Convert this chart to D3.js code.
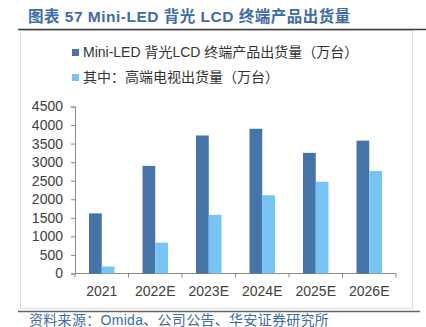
<!DOCTYPE html>
<html>
<head>
<meta charset="utf-8">
<script src="https://cdn.jsdelivr.net/npm/d3@7"></script>
<style>
  body { margin: 0; background: #fff; }
  svg { display: block; }
</style>
</head>
<body>
<svg id="chart" width="426" height="327"></svg>
<script>
// data
const categories = ["2021", "2022E", "2023E", "2024E", "2025E", "2026E"];
const seriesNames = ["Mini-LED 背光LCD 终端产品出货量（万台）", "其中：高端电视出货量（万台）"];
const totalShipments = [1620, 2900, 3720, 3900, 3250, 3580];
const highEndTV = [190, 830, 1580, 2110, 2470, 2760];
const yTicks = [0, 500, 1000, 1500, 2000, 2500, 3000, 3500, 4000, 4500];

const colors = ["#4673a8", "#76c4f5"];
const font = "'Liberation Sans', Arial, 'Noto Sans CJK SC', sans-serif";

const svg = d3.select("#chart");
const width = 426, height = 327;
const margin = { top: 106.5, right: 30, bottom: 53.5, left: 75 };

//------------------FRAME------------------
svg.append("rect")
    .attr("x", 20.5).attr("y", 30.5)
    .attr("width", 392).attr("height", 278)
    .attr("fill", "none")
    .attr("stroke", "#dcdcdc");

svg.append("line")
    .attr("x1", 18).attr("x2", 426)
    .attr("y1", 29.5).attr("y2", 29.5)
    .attr("stroke", "#3a3a3a").attr("stroke-width", 1.5);

svg.append("line")
    .attr("x1", 18).attr("x2", 420)
    .attr("y1", 311.5).attr("y2", 311.5)
    .attr("stroke", "#666").attr("stroke-width", 1.5);

// title
svg.append("text")
    .attr("x", 28).attr("y", 22)
    .attr("font-family", font)
    .attr("font-size", "15.5px")
    .attr("font-weight", "bold")
    .attr("letter-spacing", "0.5px")
    .attr("fill", "#3d6ba6")
    .text("图表 57 Mini-LED 背光 LCD 终端产品出货量");

// source
svg.append("text")
    .attr("x", 29).attr("y", 325)
    .attr("font-family", font)
    .attr("font-size", "14px")
    .attr("letter-spacing", "0.3px")
    .attr("fill", "#3d6ba6")
    .text("资料来源：Omida、公司公告、华安证券研究所");

//------------------LEGEND------------------
const legend = svg.append("g")
    .selectAll("g")
    .data(seriesNames)
    .join("g")
    .attr("transform", (d, i) => `translate(72,${49 + i * 25})`);

legend.append("rect")
    .attr("width", 7).attr("height", 7)
    .attr("fill", (d, i) => colors[i]);

legend.append("text")
    .attr("x", 11).attr("y", 8)
    .attr("font-family", font)
    .attr("font-size", "14px")
    .attr("fill", "#333")
    .text(d => d);

//------------------AXIS------------------
const x = d3.scaleBand()
    .domain(categories)
    .range([margin.left, width - margin.right])
    .padding(0);

const xs = d3.scaleBand()
    .domain([0, 1])
    .range([0, x.bandwidth()])
    .paddingInner(0)
    .paddingOuter(1.1);

const y = d3.scaleLinear()
    .domain([0, 4500])
    .range([height - margin.bottom, margin.top]);

// x axis: ticks at band boundaries
const xAxis = svg.append("g")
    .attr("transform", `translate(0,${y(0)})`);

xAxis.append("line")
    .attr("x1", x.range()[0]).attr("x2", x.range()[1])
    .attr("stroke", "#888");

xAxis.selectAll(".tick-line")
    .data(categories.concat(["end"]))
    .join("line")
    .attr("class", "tick-line")
    .attr("x1", (d, i) => i < categories.length ? x(d) : x.range()[1])
    .attr("x2", (d, i) => i < categories.length ? x(d) : x.range()[1])
    .attr("y1", 0).attr("y2", 4)
    .attr("stroke", "#888");

xAxis.selectAll(".xlabel")
    .data(categories)
    .join("text")
    .attr("class", "xlabel")
    .attr("x", d => x(d) + x.bandwidth() / 2)
    .attr("y", 22.5)
    .attr("text-anchor", "middle")
    .attr("font-family", font)
    .attr("font-size", "14px")
    .attr("fill", "#404040")
    .text(d => d);

// y axis
svg.append("g")
    .attr("transform", `translate(${margin.left},0)`)
    .call(d3.axisLeft(y)
        .tickValues(yTicks)
        .tickFormat(d3.format("d"))
        .tickSizeInner(4)
        .tickSizeOuter(4)
        .tickPadding(8)
    )
    .call(g => g.select(".domain").attr("stroke", "#888"))
    .call(g => g.selectAll(".tick line").attr("stroke", "#888"))
    .call(g => g.selectAll(".tick text")
        .attr("font-family", font)
        .attr("font-size", "14px")
        .attr("fill", "#404040"));

//------------------BARS------------------
const seriesData = [totalShipments, highEndTV];

svg.append("g")
    .selectAll("g")
    .data(seriesData)
    .join("g")
    .attr("fill", (d, i) => colors[i])
    .each(function(values, si) {
        d3.select(this).selectAll("rect")
            .data(values)
            .join("rect")
            .attr("x", (d, i) => x(categories[i]) + xs(si))
            .attr("y", d => y(d))
            .attr("width", xs.bandwidth())
            .attr("height", d => y(0) - y(d));
    });
</script>
</body>
</html>
